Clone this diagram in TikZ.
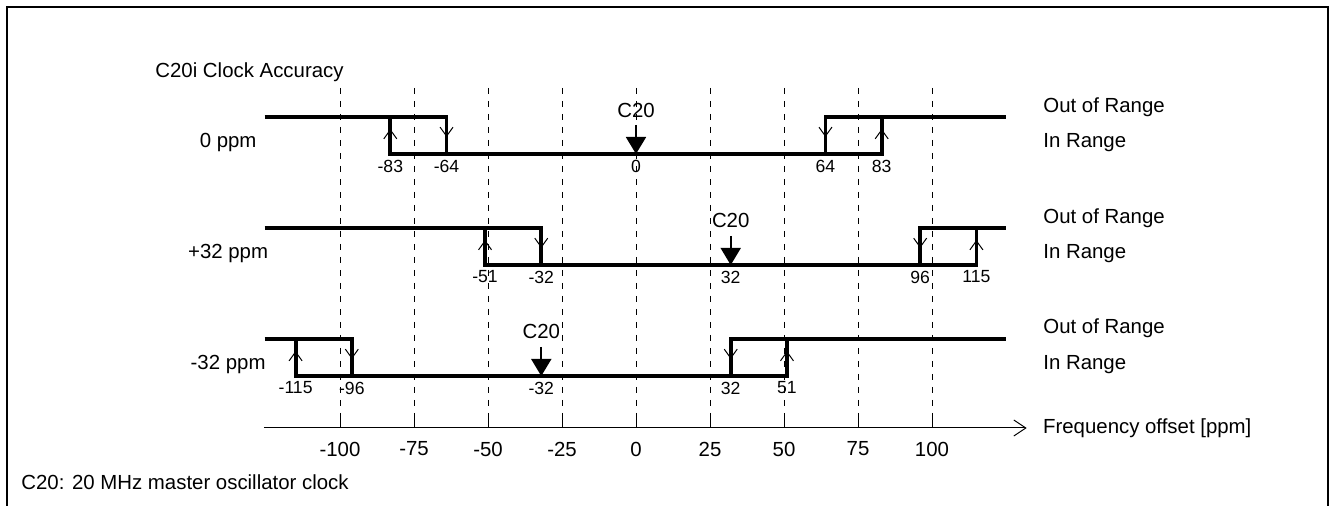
\documentclass[tikz,border=0pt]{standalone}
\usepackage{fontspec}
\setmainfont{Liberation Sans}
\usetikzlibrary{arrows.meta,positioning}
\tikzset{
  lvl/.style={line width=1.9pt},
  vgrid/.style={line width=0.5pt,dash pattern=on 3pt off 3.5pt},
  dir/.style={line width=0.5pt,-{Straight Barb[length=4.5pt,width=6.5pt]}},
  c20tip/.style={line width=0.9pt,-{Triangle[length=8.5pt,width=10pt]}},
  lbl/.style={font=\fontsize{10.2}{12}\selectfont,inner sep=0pt},
  val/.style={font=\fontsize{8.8}{10}\selectfont,inner sep=0pt},
}
\begin{document}
\begin{tikzpicture}[x=0.5pt,y=-0.5pt]
\useasboundingbox (0,0) rectangle (1330,506);
% frame
\draw[line width=1pt] (7,506) -- (7,7) -- (1328,7) -- (1328,506);
\node[lbl,anchor=west] (note) at (21,482) {C20: 20 MHz master oscillator clock};
% x in ppm from here
\begin{scope}[shift={(636,0)},x=1.48pt]
\node[lbl,anchor=west] (title) at (-162.5,72) {C20i Clock Accuracy};
% grid and axis
\foreach \f in {-100,-75,...,100}
{
\draw[vgrid] (\f,88) -- (\f,428);
\draw[line width=0.5pt] (\f,414) -- (\f,428);
\node[lbl] (t\f) at (\f,449) {\f};
}
\coordinate (ax0) at (-125.7,428);
\coordinate (ax1) at (132,428);
\draw[line width=0.5pt,-{Straight Barb[length=6pt,width=8pt]}] (ax0) -- (ax1);
\node[lbl,right=8pt of ax1] (freq) {Frequency offset [ppm]};
% 0 ppm
\node[lbl] (r1) at (-137.8,143) {0 ppm};
\node[lbl,anchor=west] (out1) at (137.5,107) {Out of Range};
\node[lbl,anchor=west] (in1) at (137.5,143) {In Range};
\draw[lvl] (-125.5,117) -- (-64,117) -- (-64,154);
\draw[lvl] (-83,117) -- (-83,154) -- (83,154) -- (83,117);
\draw[lvl] (64,154) -- (64,117) -- (125,117);
\draw[dir] (-83,146) -- (-83,129);
\draw[dir] (-64,126) -- (-64,137);
\draw[dir] (64,126) -- (64,137);
\draw[dir] (83,146) -- (83,129);
\node[lbl] (c1) at (0,110) {C20};
\coordinate (p1) at (0,154);
\draw[c20tip] (0,125) -- (p1);
\node[val] (v1a) at (-83,166) {-83};
\node[val] (v1b) at (-64,166) {-64};
\node[val] (v1c) at (0,166) {0};
\node[val] (v1d) at (64,166) {64};
\node[val] (v1e) at (83,166) {83};
% +32 ppm
\node[lbl] (r2) at (-137.8,254) {+32 ppm};
\node[lbl,anchor=west] (out2) at (137.5,218) {Out of Range};
\node[lbl,anchor=west] (in2) at (137.5,254) {In Range};
\draw[lvl] (-125.5,228) -- (-32,228) -- (-32,265);
\draw[lvl] (-51,228) -- (-51,265) -- (115,265) -- (115,228);
\draw[lvl] (96,265) -- (96,228) -- (125,228);
\draw[dir] (-51,257) -- (-51,240);
\draw[dir] (-32,237) -- (-32,248);
\draw[dir] (96,237) -- (96,248);
\draw[dir] (115,257) -- (115,240);
\node[lbl] (c2) at (32,220) {C20};
\coordinate (p2) at (32,265);
\draw[c20tip] (32,236) -- (p2);
\node[val] (v2a) at (-51,277) {-51};
\node[val] (v2b) at (-32,277) {-32};
\node[val] (v2c) at (32,277) {32};
\node[val] (v2d) at (96,277) {96};
\node[val] (v2e) at (115,277) {115};
% -32 ppm
\node[lbl] (r3) at (-137.8,365) {-32 ppm};
\node[lbl,anchor=west] (out3) at (137.5,328) {Out of Range};
\node[lbl,anchor=west] (in3) at (137.5,365) {In Range};
\draw[lvl] (-125.5,339) -- (-96,339) -- (-96,376);
\draw[lvl] (-115,339) -- (-115,376) -- (51,376) -- (51,339);
\draw[lvl] (32,376) -- (32,339) -- (125,339);
\draw[dir] (-115,368) -- (-115,351);
\draw[dir] (-96,348) -- (-96,359);
\draw[dir] (32,348) -- (32,359);
\draw[dir] (51,368) -- (51,351);
\node[lbl] (c3) at (-32,331) {C20};
\coordinate (p3) at (-32,376);
\draw[c20tip] (-32,347) -- (p3);
\node[val] (v3a) at (-115,388) {-115};
\node[val] (v3b) at (-96,388) {-96};
\node[val] (v3c) at (-32,388) {-32};
\node[val] (v3d) at (32,388) {32};
\node[val] (v3e) at (51,388) {51};
\end{scope}
\end{tikzpicture}
\end{document}
